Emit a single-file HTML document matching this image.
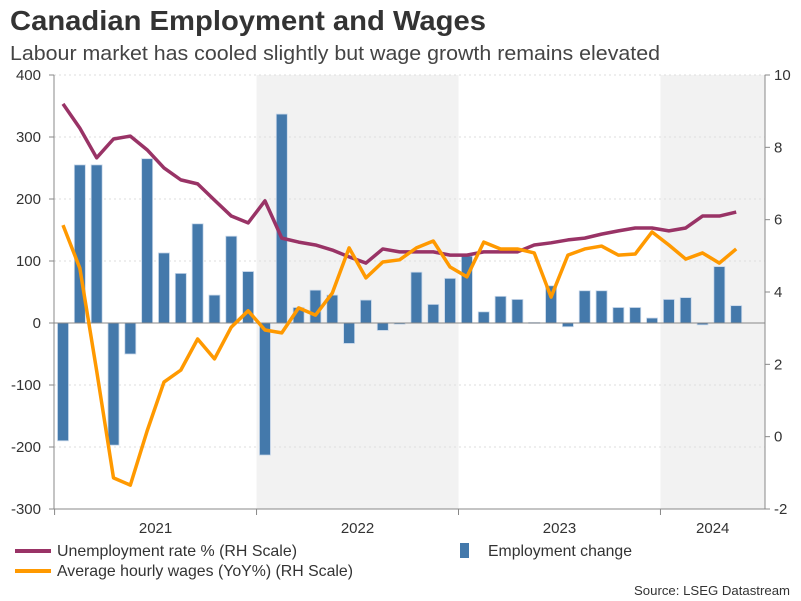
<!DOCTYPE html>
<html><head><meta charset="utf-8"><style>
body{margin:0;background:#fff;}
svg{display:block;font-family:"Liberation Sans",Arial,sans-serif;}
</style></head><body>
<svg id="chart" width="801" height="601" viewBox="0 0 801 601">
<text x="10" y="30" font-size="28" font-weight="bold" fill="#333" textLength="476" lengthAdjust="spacingAndGlyphs">Canadian Employment and Wages</text>
<text x="10" y="60" font-size="20" fill="#444" textLength="650" lengthAdjust="spacingAndGlyphs">Labour market has cooled slightly but wage growth remains elevated</text>
<g id="bands"></g><g id="grid"></g><g id="bars"></g><g id="lines"></g><g id="axes"></g>
<g>
<line x1="15" y1="551" x2="51" y2="551" stroke="#993366" stroke-width="4"/>
<text x="57" y="556" font-size="16" fill="#333" textLength="240" lengthAdjust="spacingAndGlyphs">Unemployment rate % (RH Scale)</text>
<line x1="15" y1="571" x2="51" y2="571" stroke="#ff9900" stroke-width="4"/>
<text x="57" y="576" font-size="16" fill="#333" textLength="296" lengthAdjust="spacingAndGlyphs">Average hourly wages (YoY%) (RH Scale)</text>
<rect x="460" y="543" width="9" height="15" fill="#4479ab"/>
<text x="488" y="556" font-size="16" fill="#333" textLength="144" lengthAdjust="spacingAndGlyphs">Employment change</text>
</g>
<text x="790" y="595" font-size="13" fill="#333" text-anchor="end" textLength="156" lengthAdjust="spacingAndGlyphs">Source: LSEG Datastream</text>
</svg>
<script>
const employment=[-190,255,255,-197,-50,265,113,80,160,45,140,83,-213,337,25,53,45,-33,37,-12,-2,82,30,72,108,18,43,38,1,60,-6,52,52,25,25,8,38,41,-3,91,28];
const unemployment=[9.2,8.53,7.71,8.23,8.31,7.93,7.43,7.1,6.99,6.54,6.1,5.91,6.52,5.49,5.38,5.3,5.16,4.97,4.8,5.19,5.11,5.11,5.11,5.02,5.02,5.11,5.11,5.11,5.3,5.36,5.44,5.49,5.6,5.69,5.77,5.77,5.69,5.77,6.1,6.1,6.21];
const wages=[5.85,4.66,1.82,-1.14,-1.34,0.16,1.51,1.84,2.7,2.15,3.03,3.48,2.95,2.87,3.56,3.36,3.97,5.22,4.39,4.83,4.89,5.22,5.41,4.69,4.42,5.38,5.19,5.19,5.08,3.86,5.02,5.19,5.27,5.02,5.05,5.66,5.3,4.91,5.08,4.8,5.19];
const leftTicks=[-300,-200,-100,0,100,200,300,400];
const rightTicks=[-2,0,2,4,6,8,10];
const years=["2021","2022","2023","2024"];
const NS="http://www.w3.org/2000/svg";
const X0=54,X1=765,Y0=75,Y1=509;
const step=16.83;
function x(i){return 63+step*i;}
function yL(v){return Y1-(v+300)/700*(Y1-Y0);}
function yR(v){return Y1-(v+2)/12*(Y1-Y0);}
function mk(tag,attrs,parent){const e=document.createElementNS(NS,tag);for(const k in attrs)e.setAttribute(k,attrs[k]);document.getElementById(parent).appendChild(e);return e;}
[1,3].forEach(k=>{const a=x(k*12-0.5),b=Math.min(x(k*12+11.5),X1);
const r=mk('rect',{x:a,y:Y0,width:b-a,height:Y1-Y0,fill:'#f2f2f2'},'bands');

});
leftTicks.forEach(v=>{const y=yL(v);
if(v!==0&&v!==-300){const g=mk('line',{x1:X0,x2:X1,y1:y,y2:y,stroke:'#ddd','stroke-dasharray':'2,3'},'grid');

}
mk('line',{x1:X0-5,x2:X0,y1:y,y2:y,stroke:'#888'},'axes');
const t=mk('text',{x:X0-13,y:y+5,'font-size':15,fill:'#333','text-anchor':'end'},'axes');t.textContent=v;

});
rightTicks.forEach(v=>{const y=yR(v);
mk('line',{x1:X1,x2:X1+5,y1:y,y2:y,stroke:'#888'},'axes');
const t=mk('text',{x:X1+9,y:y+5,'font-size':15,fill:'#333'},'axes');t.textContent=v;

});
employment.forEach((v,i)=>{const y0=yL(0),y=yL(v);
const r=mk('rect',{x:x(i)-5.5,y:Math.min(y,y0),width:11,height:Math.max(Math.abs(y0-y),1),fill:'#4479ab',stroke:'#c9d8ea','stroke-width':0.8},'bars');

});
mk('line',{x1:X0,x2:X1,y1:yL(0),y2:yL(0),stroke:'#888'},'bars');
function line(d,col,name){const p=mk('polyline',{points:d.map((v,i)=>x(i)+','+yR(v)).join(' '),fill:'none',stroke:col,'stroke-width':3.5,'stroke-linejoin':'round'},'lines');

}
line(unemployment,'#993366','unemployment-line');
line(wages,'#ff9900','wages-line');
mk('line',{x1:X0,x2:X0,y1:Y0,y2:Y1,stroke:'#888'},'axes');
mk('line',{x1:X1,x2:X1,y1:Y0,y2:Y1,stroke:'#888'},'axes');
mk('line',{x1:X0,x2:X1,y1:Y1,y2:Y1,stroke:'#888'},'axes');
years.forEach((yr,k)=>{const a=x(k*12-0.5),b=Math.min(x(k*12+11.5),X1);
mk('line',{x1:a,x2:a,y1:Y1,y2:Y1+6,stroke:'#888'},'axes');
const t=mk('text',{x:(a+b)/2,y:Y1+24,'font-size':15,fill:'#333','text-anchor':'middle'},'axes');t.textContent=yr;

});
</script>
</body></html>
